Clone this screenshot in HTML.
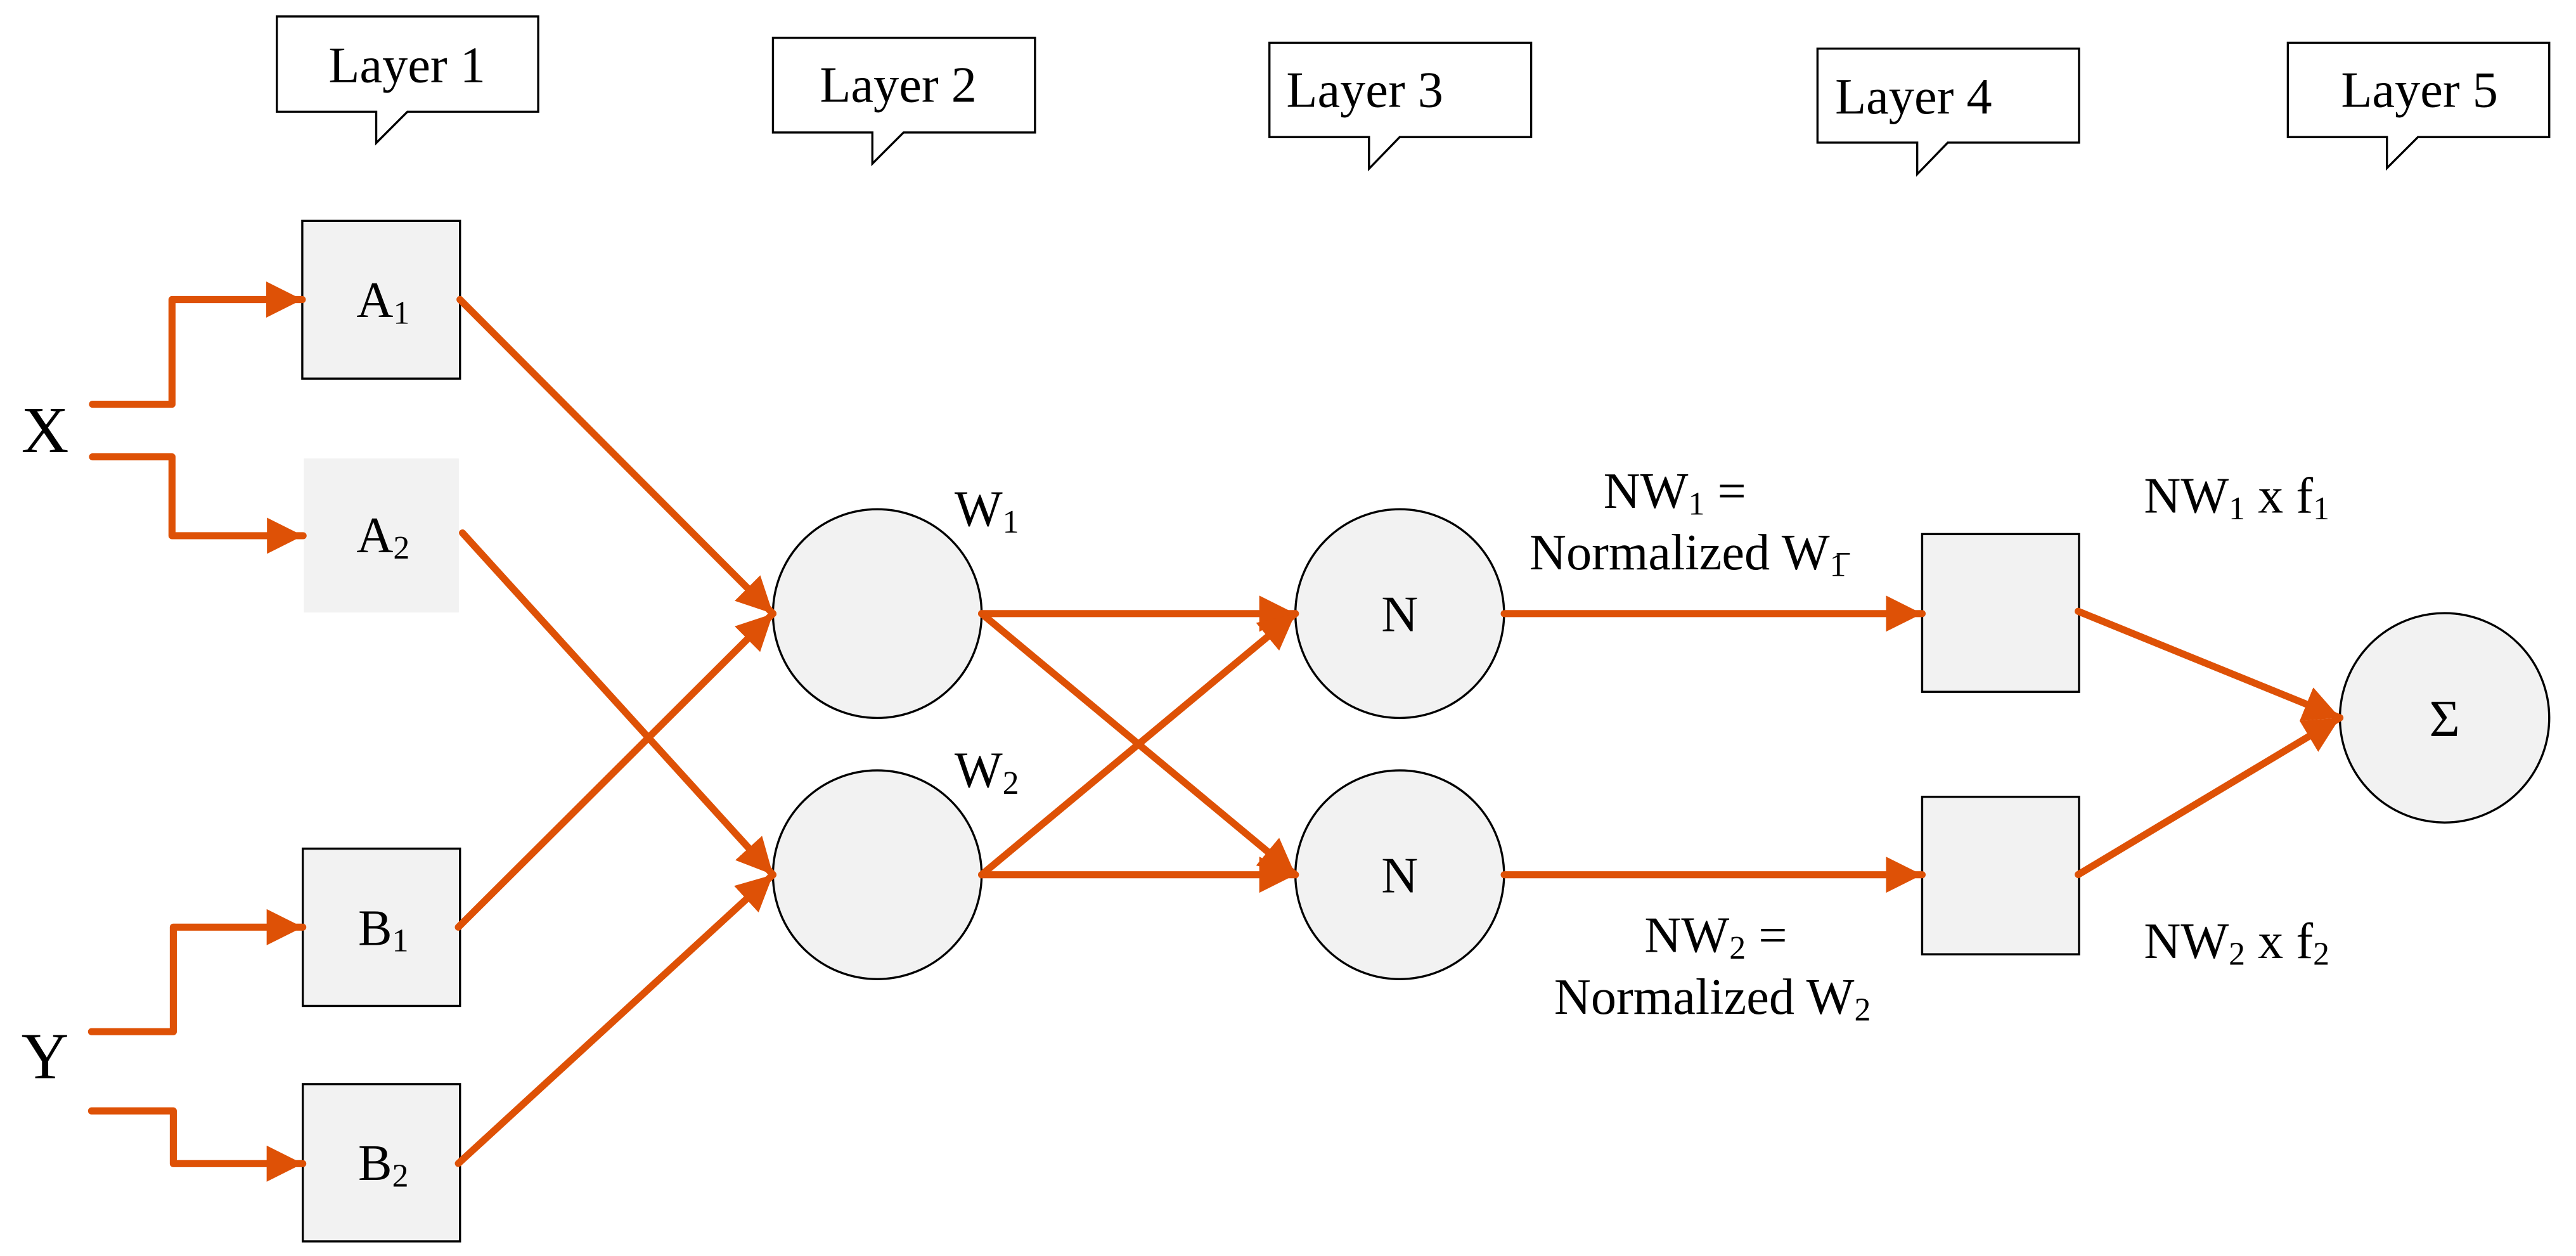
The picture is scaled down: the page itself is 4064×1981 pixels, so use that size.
<!DOCTYPE html>
<html><head><meta charset="utf-8"><style>
html,body{margin:0;padding:0;background:#fff;}
svg{display:block;}
text{font-family:"Liberation Serif",serif;fill:#000;}
</style></head><body>
<svg width="4064" height="1981" viewBox="0 0 1568 764.3" preserveAspectRatio="none" xmlns="http://www.w3.org/2000/svg">
<defs>
<marker id="ah" markerUnits="userSpaceOnUse" viewBox="0 0 22 22" refX="22" refY="11" markerWidth="22" markerHeight="22" orient="auto">
<path d="M0,0 L22,11 L0,22 Z" fill="#DE5106"/>
</marker>
</defs>
<g fill="#fff" stroke="#000" stroke-width="1.3">
<path d="M168.5,10 H327.6 V68 H248 L229,87 V68 H168.5 Z"/>
<path d="M470.5,23 H630 V80.6 H550 L531,99.6 V80.6 H470.5 Z"/>
<path d="M772.7,26 H932 V83.4 H852 L833.3,102.7 V83.4 H772.7 Z"/>
<path d="M1106.3,29.6 H1265.5 V86.8 H1185.6 L1167,106 V86.8 H1106.3 Z"/>
<path d="M1392.6,26 H1551.7 V83.4 H1471.8 L1452.9,102.3 V83.4 H1392.6 Z"/>
</g>
<g font-size="31">
<text x="200" y="50">Layer 1</text>
<text x="499" y="62">Layer 2</text>
<text x="783" y="65">Layer 3</text>
<text x="1117" y="69">Layer 4</text>
<text x="1425" y="65">Layer 5</text>
</g>
<g fill="#F2F2F2" stroke="#000" stroke-width="1.3">
<rect x="184" y="134.4" width="96" height="96"/>
<rect x="184.3" y="516.4" width="95.7" height="95.7"/>
<rect x="184.3" y="659.7" width="95.7" height="95.7"/>
<circle cx="534" cy="373.4" r="63.5"/>
<circle cx="534" cy="532.3" r="63.5"/>
<circle cx="852" cy="373.4" r="63.5"/>
<circle cx="852" cy="532.3" r="63.5"/>
<rect x="1170" y="325" width="95.5" height="96"/>
<rect x="1170" y="484.9" width="95.5" height="95.8"/>
<circle cx="1488" cy="436.8" r="63.7"/>
</g>
<rect x="185" y="279" width="94.3" height="93.7" fill="#F2F2F2"/>
<g stroke="#DE5106" stroke-width="4.3" fill="none" stroke-linejoin="round" stroke-linecap="round" marker-end="url(#ah)">
<polyline points="56.3,246 104.7,246 104.7,182.3 184,182.3"/>
<polyline points="56.3,278 104.7,278 104.7,326 184.5,326"/>
<polyline points="55.7,627.8 105.5,627.8 105.5,564.2 184.3,564.2"/>
<polyline points="55.7,676 105.5,676 105.5,708.1 184.3,708.1"/>
<line x1="280" y1="182.3" x2="470.5" y2="373.4"/>
<line x1="281.5" y1="324.3" x2="470.5" y2="532.3"/>
<line x1="279" y1="564.2" x2="470.5" y2="373.4"/>
<line x1="279" y1="708" x2="470.5" y2="532.3"/>
<line x1="597.5" y1="373.4" x2="788.5" y2="373.4"/>
<line x1="597.5" y1="373.4" x2="788.5" y2="532.3"/>
<line x1="597.5" y1="532.3" x2="788.5" y2="373.4"/>
<line x1="597.5" y1="532.3" x2="788.5" y2="532.3"/>
<line x1="915.6" y1="373.4" x2="1170" y2="373.4"/>
<line x1="915.6" y1="532.3" x2="1170" y2="532.3"/>
<line x1="1265" y1="372" x2="1424.3" y2="436.8"/>
<line x1="1265" y1="532.2" x2="1424.3" y2="436.8"/>
</g>
<text x="13" y="275" font-size="40">X</text>
<text x="13" y="656" font-size="40">Y</text>
<g font-size="31">
<text x="217" y="193">A<tspan font-size="20" dy="4">1</tspan></text>
<text x="217" y="336">A<tspan font-size="20" dy="4">2</tspan></text>
<text x="218" y="575">B<tspan font-size="20" dy="4">1</tspan></text>
<text x="218" y="718">B<tspan font-size="20" dy="4">2</tspan></text>
<text x="581" y="320">W<tspan font-size="20" dy="4">1</tspan></text>
<text x="581" y="479">W<tspan font-size="20" dy="4">2</tspan></text>
<text x="852" y="384" text-anchor="middle">N</text>
<text x="852" y="543" text-anchor="middle">N</text>
<text x="1488" y="448" font-size="32" text-anchor="middle">Σ</text>
<text x="976" y="309">NW<tspan font-size="20" dy="4">1</tspan><tspan dy="-4"> =</tspan></text>
<text x="931" y="346.5">Normalized W<tspan font-size="20" dy="4">1</tspan></text>
<text x="1001" y="579.4">NW<tspan font-size="20" dy="4">2</tspan><tspan dy="-4"> =</tspan></text>
<text x="946" y="617">Normalized W<tspan font-size="20" dy="4">2</tspan></text>
<text x="1305" y="312">NW<tspan font-size="20" dy="4">1</tspan><tspan dy="-4"> x f</tspan><tspan font-size="20" dy="4">1</tspan></text>
<text x="1305" y="583">NW<tspan font-size="20" dy="4">2</tspan><tspan dy="-4"> x f</tspan><tspan font-size="20" dy="4">2</tspan></text>
</g>
<line x1="1118" y1="337" x2="1126" y2="337" stroke="#000" stroke-width="1"/>
</svg>
</body></html>
